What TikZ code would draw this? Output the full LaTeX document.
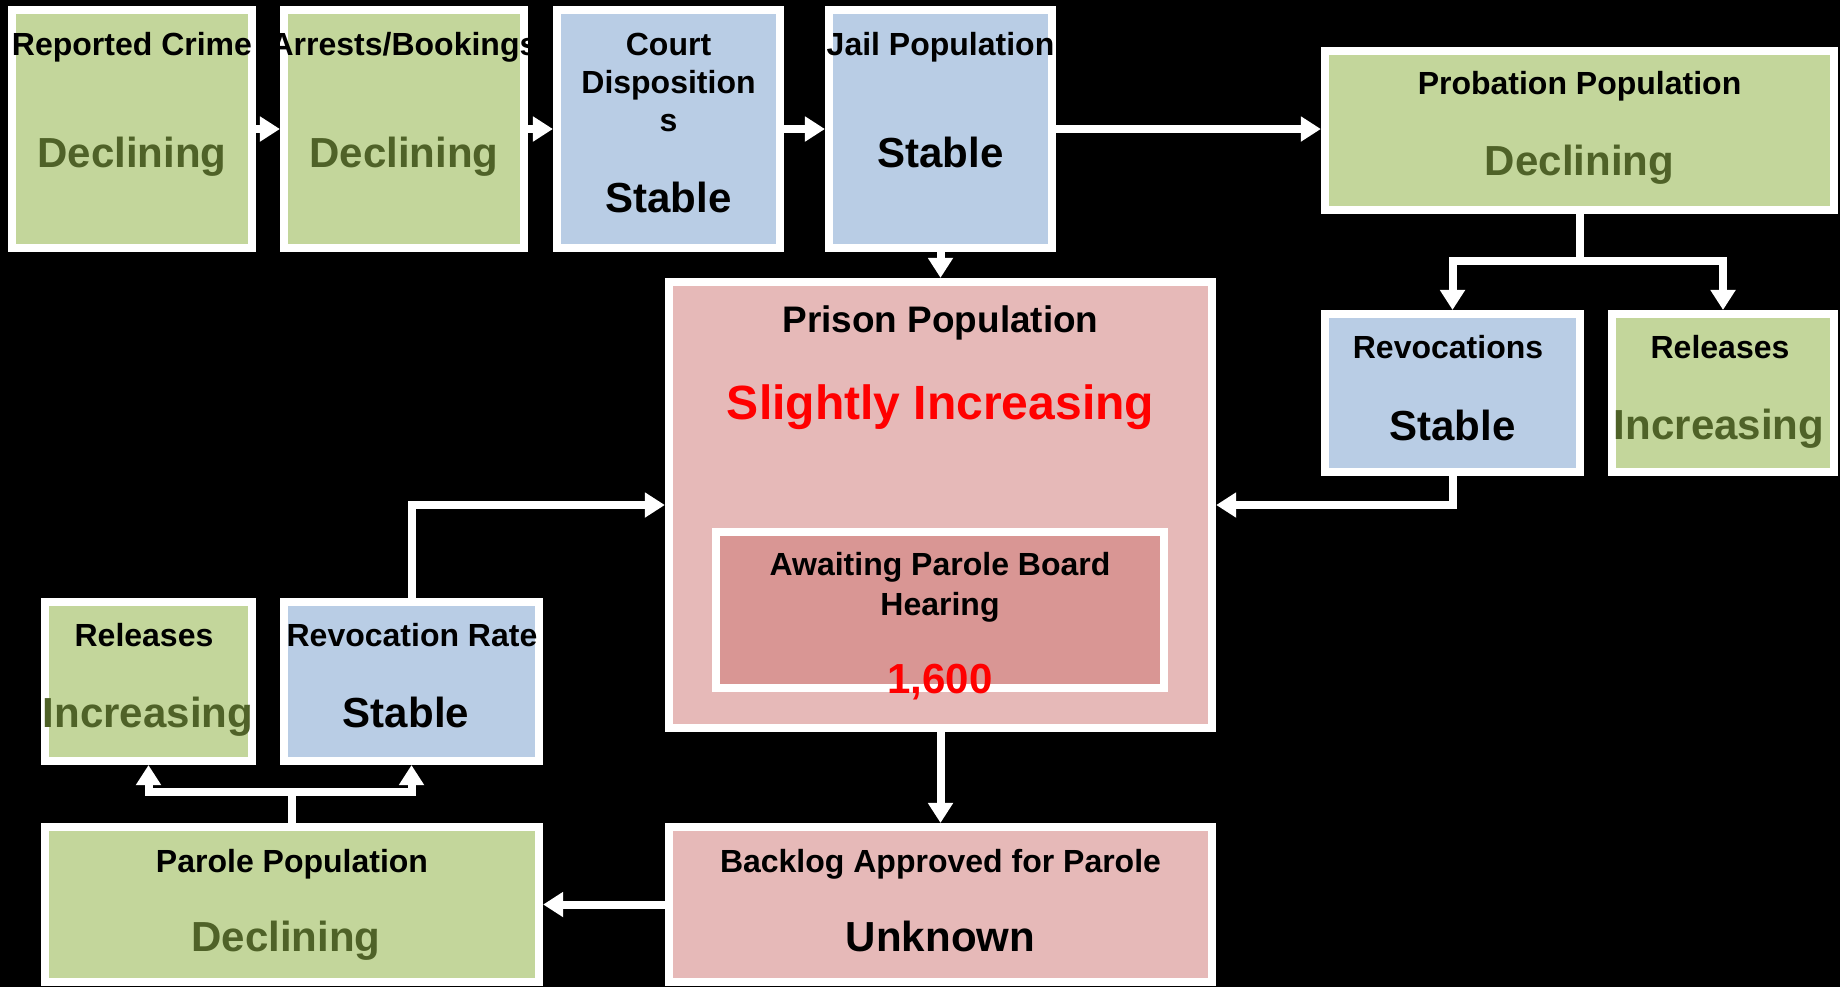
\documentclass[tikz,border=0pt]{standalone}
\usepackage{fontspec}
\setmainfont{Liberation Sans}
\usetikzlibrary{arrows.meta}
\definecolor{boxgreen}{HTML}{C3D69B}
\definecolor{greentext}{HTML}{4F6228}
\definecolor{boxblue}{HTML}{B9CDE5}
\definecolor{boxpink}{HTML}{E6B9B8}
\definecolor{innerpink}{HTML}{D99694}
\begin{document}
\begin{tikzpicture}[x=0.01cm,y=-0.01cm,
  box/.style={rectangle,draw=white,line width=0.08cm,inner sep=0pt},
  greenbox/.style={box,fill=boxgreen},
  bluebox/.style={box,fill=boxblue},
  pinkbox/.style={box,fill=boxpink},
  title/.style={font=\bfseries\fontsize{9.1}{10.8}\selectfont,align=center,inner sep=0pt},
  value/.style={font=\bfseries\fontsize{11.95}{14}\selectfont,inner sep=0pt},
  flow/.style={draw=white,line width=0.08cm,-{Triangle[width=0.24cm,length=0.2cm]}}]
\useasboundingbox (0,0) rectangle (1840,987);
\fill[black] (0,0) rectangle (1840,987);

\node[greenbox,minimum width=2.4cm,minimum height=2.38cm] (crime) at (132,129) {};
\node[greenbox,minimum width=2.4cm,minimum height=2.38cm] (arrests) at (404,129) {};
\node[bluebox,minimum width=2.23cm,minimum height=2.38cm] (court) at (668.5,129) {};
\node[bluebox,minimum width=2.23cm,minimum height=2.38cm] (jail) at (940.5,129) {};
\node[greenbox,minimum width=5.09cm,minimum height=1.59cm] (probation) at (1579.5,130.5) {};
\node[bluebox,minimum width=2.55cm,minimum height=1.58cm] (revocations) at (1452.5,393) {};
\node[greenbox,minimum width=2.22cm,minimum height=1.58cm] (probrelease) at (1723,393) {};
\node[pinkbox,minimum width=5.43cm,minimum height=4.46cm] (prison) at (940.5,505) {};
\node[box,fill=innerpink,minimum width=4.48cm,minimum height=1.56cm] (awaiting) at (940,610) {};
\node[greenbox,minimum width=2.07cm,minimum height=1.59cm] (parolerelease) at (148.5,681.5) {};
\node[bluebox,minimum width=2.55cm,minimum height=1.59cm] (revrate) at (411.5,681.5) {};
\node[greenbox,minimum width=4.94cm,minimum height=1.55cm] (parole) at (292,904.5) {};
\node[pinkbox,minimum width=5.43cm,minimum height=1.55cm] (backlog) at (940.5,904.5) {};

\node[title] (crimet) at (132,47) {Reported Crime};
\node[value,text=greentext] (crimev) at (132,157) {Declining};
\begin{scope}
\clip (arrests.north west) rectangle (arrests.south east);
\node[title] (arrestst) at (404,47) {Arrests/Bookings};
\end{scope}
\node[value,text=greentext] (arrestsv) at (404,157) {Declining};
\node[title] (courtt) at (668.5,82) {Court\\Disposition\\s};
\node[value] (courtv) at (668.5,197) {Stable};
\node[title] (jailt) at (940.5,47) {Jail Population};
\node[value] (jailv) at (940.5,152) {Stable};
\node[title] (probationt) at (1579.5,86) {Probation Population};
\node[value,text=greentext] (probationv) at (1579.5,165) {Declining};
\node[title] (revocationst) at (1448,347) {Revocations};
\node[value] (revocationsv) at (1452.5,425) {Stable};
\node[title] (probreleaset) at (1720,347) {Releases};
\node[value,text=greentext] (probreleasev) at (1719,429) {Increasing};
\node[title,font=\bfseries\fontsize{10.5}{12}\selectfont] (prisont) at (940.5,323) {Prison Population};
\node[value,font=\bfseries\fontsize{13.66}{16}\selectfont,text=red] (prisonv) at (940.5,407) {Slightly Increasing};
\node[title,font=\bfseries\fontsize{9.1}{11.4}\selectfont] (awaitingt) at (940,587) {Awaiting Parole Board\\Hearing};
\node[value,text=red] (awaitingv) at (940,682) {1,600};
\node[title] (parolereleaset) at (144,635) {Releases};
\node[value,text=greentext] (parolereleasev) at (148,717) {Increasing};
\node[title] (revratet) at (412,635) {Revocation Rate};
\node[value] (revratev) at (406,712) {Stable};
\node[title] (parolet) at (292,864) {Parole Population};
\node[value,text=greentext] (parolev) at (286,941) {Declining};
\node[title] (backlogt) at (940.5,864) {Backlog Approved for Parole};
\node[value] (backlogv) at (940.5,936) {Unknown};

\coordinate (probsplit) at (1579.5,261);
\coordinate (parolesplit) at (292,792);
\draw[flow] (crime.east) -- (arrests.west);
\draw[flow] (arrests.east) -- (court.west);
\draw[flow] (court.east) -- (jail.west);
\draw[flow] (jail.east) -- (jail.east -| probation.west);
\draw[flow] (jail.south) -- (prison.north);
\draw[flow] (probation.south) -- (probsplit) -| (revocations.north);
\draw[flow] (probsplit) -| (probrelease.north);
\draw[flow] (revocations.south) |- (prison.east);
\draw[flow] (revrate.north) |- (prison.west);
\draw[flow] (prison.south) -- (backlog.north);
\draw[flow] (backlog.west) -- (parole.east);
\draw[flow] (parole.north) -- (parolesplit) -| (parolerelease.south);
\draw[flow] (parolesplit) -| (revrate.south);
\end{tikzpicture}
\end{document}
